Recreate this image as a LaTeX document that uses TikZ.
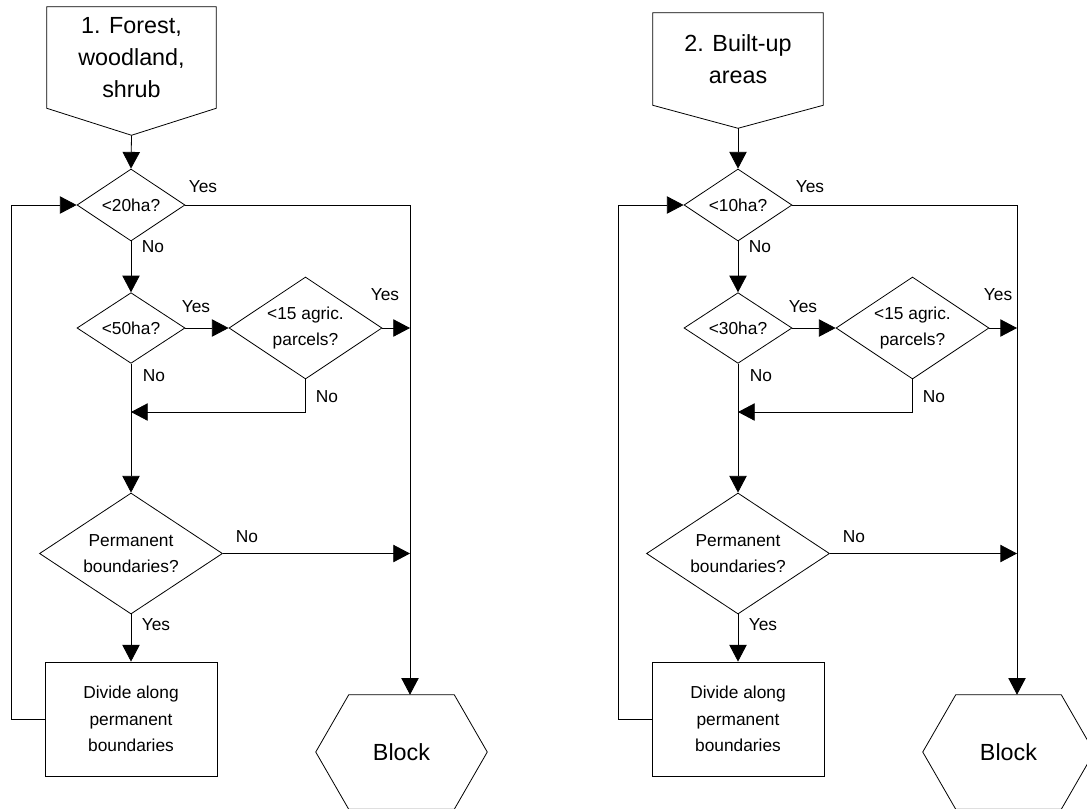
\documentclass[tikz,border=0pt]{standalone}
\usepackage{fontspec}
\setmainfont{Liberation Sans}
\usetikzlibrary{arrows.meta,shapes.geometric}
\newcommand\lblfont{\fontsize{13}{20}\selectfont}
\newcommand\bigfont{\fontsize{17.5}{23.7}\selectfont}
\tikzset{
  line/.style={draw=black, line width=0.6pt, line join=miter},
  arr/.style={line, -{Triangle[length=12.5pt, width=13pt]}},
  lab/.style={font=\lblfont, inner sep=0pt},
  dec/.style={diamond, draw=black, line width=0.6pt, inner sep=0pt, aspect=1.5, align=center, font=\lblfont},
  act/.style={rectangle, draw=black, line width=0.6pt, align=center, font=\lblfont, minimum width=129pt, minimum height=85.5pt},
  ttl/.style={rectangle, inner sep=0pt, align=center, font=\bigfont},
  hexa/.style={rectangle, inner sep=0pt, font=\bigfont, minimum width=128.25pt, minimum height=85.5pt},
}
\begin{document}
\begin{tikzpicture}[x=0.75pt, y=-0.75pt]
  \useasboundingbox (0,0) rectangle (1087,808);
  \node[ttl, minimum width=126.75pt, minimum height=75.75pt] (s1) at (131.5,57.5) {1. Forest,\\woodland,\\shrub};
  \draw[line] (s1.north west) -- (s1.north east) -- (s1.south east) -- ([yshift=-20.25pt]s1.south) coordinate (tip1) -- (s1.south west) -- cycle;
  \node[ttl, minimum width=127.5pt, minimum height=69pt] (s2) at (738,59) {2. Built-up\\areas};
  \draw[line] (s2.north west) -- (s2.north east) -- (s2.south east) -- ([yshift=-17.25pt]s2.south) coordinate (tip2) -- (s2.south west) -- cycle;
  \foreach \k/\dx/\ha/\hb/\yx in {1/0/20/50/385, 2/607/10/30/391}{
    \begin{scope}[shift={(\dx,0)}]
      \node[dec, minimum width=81pt, minimum height=54pt] (d1-\k) at (131,205) {<\ha ha?};
      \node[dec, minimum width=81pt, minimum height=53pt] (d2-\k) at (131,328) {<\hb ha?};
      \node[dec, minimum width=114.75pt, minimum height=76.5pt] (d3-\k) at (305.5,328) {<15 agric.\\parcels?};
      \node[dec, minimum width=137.25pt, minimum height=90.75pt] (d4-\k) at (131,553.5) {Permanent\\boundaries?};
      \node[act] (b-\k) at (131,719) {Divide along\\permanent\\boundaries};
      \node[hexa] (blk-\k) at (401.5,752) {Block};
      \draw[line] ([xshift=24.75pt]blk-\k.north west) -- ([xshift=-24.75pt]blk-\k.north east) -- (blk-\k.east)
        -- ([xshift=-24.75pt]blk-\k.south east) -- ([xshift=24.75pt]blk-\k.south west) -- (blk-\k.west) -- cycle;
      \coordinate (rail-\k) at (410,208);
      \coordinate (m-\k) at (131,412);
      \draw[arr] (tip\k) -- (d1-\k.north);
      \draw[arr] (d1-\k.east) -| (blk-\k.north -| rail-\k);
      \draw[arr] (d1-\k.south) -- (d2-\k.north);
      \draw[arr] (d2-\k.east) -- (d3-\k.west);
      \draw[arr] (d3-\k.east) -- (d3-\k.east -| rail-\k);
      \draw[arr] (d3-\k.south) |- (m-\k);
      \draw[arr] (d2-\k.south) -- (d4-\k.north);
      \draw[arr] (d4-\k.east) -- (d4-\k.east -| rail-\k);
      \draw[arr] (d4-\k.south) -- (b-\k.north);
      \draw[arr] (b-\k.west) -- ++(-33,0) |- (d1-\k.west);
      \node[lab] (y1-\k) at (203,187) {Yes};
      \node[lab] (n1-\k) at (153,247) {No};
      \node[lab] (y2-\k) at (196,307) {Yes};
      \node[lab] (y3-\k) at (\yx,295) {Yes};
      \node[lab] (n2-\k) at (154,376) {No};
      \node[lab] (n3-\k) at (327,397) {No};
      \node[lab] (n4-\k) at (247,537) {No};
      \node[lab] (y4-\k) at (156,625) {Yes};
    \end{scope}
  }
\end{tikzpicture}
\end{document}
